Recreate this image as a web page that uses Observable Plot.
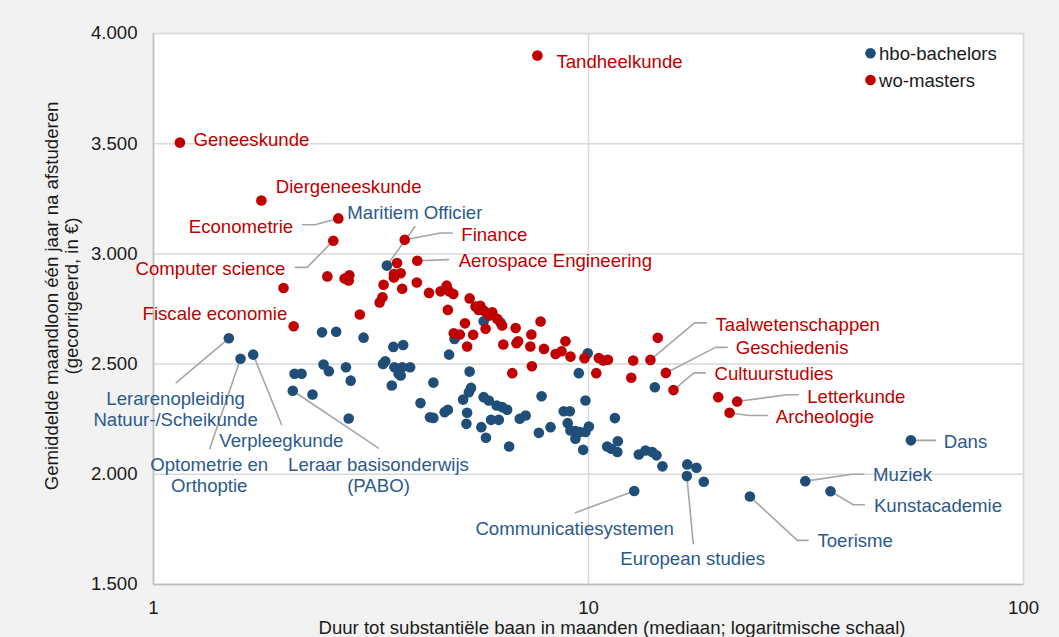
<!DOCTYPE html>
<html><head><meta charset="utf-8">
<script src="https://cdn.jsdelivr.net/npm/d3@7"></script>
<script src="https://cdn.jsdelivr.net/npm/@observablehq/plot@0.6"></script>
<style>body{margin:0;background:#F2F2F2;} #chart svg{display:block}</style>
</head><body><div id="chart"></div>
<script>
// ---- data: hbo-bachelors (months to substantial job, average monthly wage) ----
const hboNames = ["Maritiem Officier","Dans","Muziek","Kunstacademie","Toerisme","European studies","Communicatiesystemen","Lerarenopleiding\nNatuur-/Scheikunde","Optometrie en\nOrthoptie","Verpleegkunde","Leraar basisonderwijs\n(PABO)"];
const hboMonths = [3.44,55.1,31.5,36.0,23.5,16.83,12.74,1.49,1.585,1.695,2.09,
  2.44,2.63,3.04,3.56,3.75,2.46,2.53,2.77,2.84,2.11,2.19,2.32,2.81,3.37,3.41,3.58,3.66,3.73,3.89,3.70,3.53,4.40,4.11,4.32,4.40,
  5.33,9.50,4.67,4.75,5.15,5.31,5.37,5.26,5.24,5.67,5.81,5.74,5.90,6.15,6.33,6.50,5.97,6.22,6.57,6.95,7.17,7.80,7.69,8.18,
  8.77,9.06,8.96,9.09,9.33,9.55,9.84,10.02,9.33,9.72,9.84,5.74,6.28,4.92,4.78,9.96,14.21,11.50,11.04,11.28,11.68,11.65,
  13.05,13.52,14.01,14.33,14.79,16.87,17.71,18.41];
const hboWage = [2947,2154,1969,1923,1899,1992,1924,2617,2524,2543,2379,
  2644,2647,2620,2578,2587,2498,2468,2486,2425,2456,2456,2362,2253,2501,2513,2486,2456,2486,2486,2448,2403,2416,2323,2259,2256,
  2466,2459,2282,2293,2339,2372,2392,2279,2229,2214,2166,2350,2335,2312,2305,2293,2247,2247,2126,2252,2267,2354,2188,2214,
  2286,2286,2232,2199,2196,2192,2192,2217,2161,2111,2335,2694,2688,2614,2543,2549,2395,2255,2126,2116,2150,2101,
  2090,2108,2101,2086,2036,2045,2030,1966];

// ---- data: wo-masters ----
const woNames = ["Tandheelkunde","Geneeskunde","Diergeneeskunde","Econometrie","Computer science","Finance","Aerospace Engineering","Fiscale economie","Taalwetenschappen","Geschiedenis","Cultuurstudies","Letterkunde","Archeologie"];
const woMonths = [7.63,1.15,1.77,2.66,2.59,3.78,4.04,2.10,13.88,15.06,15.68,21.97,21.1,
  19.87,3.63,2.51,2.75,2.82,2.81,1.99,3.57,3.70,3.57,3.38,3.73,4.03,4.30,4.57,4.72,4.78,4.89,3.36,3.31,2.98,5.33,4.75,
  5.50,5.64,5.59,5.74,5.85,6.01,5.91,6.17,6.33,5.80,5.20,4.90,5.06,5.43,5.26,6.80,7.76,7.39,6.37,6.89,6.83,7.35,7.90,7.41,6.68,
  8.85,8.40,8.67,9.09,9.79,10.42,10.56,10.81,11.08,12.67,14.43,12.54];
const woWage = [3900,3505,3242,3161,3060,3064,2969,2672,2519,2460,2382,2330,2279,
  2350,2959,2898,2888,2903,2879,2845,2909,2912,2893,2860,2842,2870,2823,2830,2856,2830,2818,2803,2780,2725,2798,2746,
  2761,2765,2746,2743,2730,2735,2720,2705,2675,2660,2685,2640,2634,2633,2580,2664,2693,2634,2589,2604,2595,2580,2569,2490,2459,
  2604,2546,2558,2534,2527,2459,2528,2516,2520,2516,2619,2438];

// ---- axes ----
const yTicks = [1500,2000,2500,3000,3500,4000];
const xTicks = [1,10,100];
const seriesNames = ["hbo-bachelors","wo-masters"];
const xTitle = "Duur tot substantiële baan in maanden (mediaan; logaritmische schaal)";
const yTitle = ["Gemiddelde maandloon één jaar na afstuderen","(gecorrigeerd, in €)"];

// ---- annotation layout (label anchor and leader elbows, in data units) ----
const labelLayout = [
  {s:"wo",  name:"Tandheelkunde", a:"start", t:[8.44,3875], p:[]},
  {s:"wo",  name:"Geneeskunde", a:"start", t:[1.236,3519], p:[]},
  {s:"wo",  name:"Diergeneeskunde", a:"start", t:[1.91,3306], p:[]},
  {s:"wo",  name:"Econometrie", a:"end", t:[2.095,3126], p:[[2.35,3132],[2.20,3132]]},
  {s:"wo",  name:"Computer science", a:"end", t:[2.01,2934], p:[[2.256,2939],[2.12,2939]]},
  {s:"wo",  name:"Finance", a:"start", t:[5.10,3090], p:[[4.57,3095],[4.86,3095]]},
  {s:"wo",  name:"Aerospace Engineering", a:"start", t:[5.03,2969], p:[[4.77,2974]]},
  {s:"wo",  name:"Fiscale economie", a:"end", t:[2.03,2729], p:[]},
  {s:"wo",  name:"Taalwetenschappen", a:"start", t:[19.59,2682], p:[[17.53,2687],[18.65,2687]]},
  {s:"wo",  name:"Geschiedenis", a:"start", t:[21.81,2574], p:[[19.59,2576],[20.84,2576]]},
  {s:"wo",  name:"Cultuurstudies", a:"start", t:[19.49,2456], p:[[17.47,2460],[18.58,2460]]},
  {s:"wo",  name:"Letterkunde", a:"start", t:[31.83,2354], p:[[28.63,2361],[30.35,2361]]},
  {s:"wo",  name:"Archeologie", a:"start", t:[26.96,2264], p:[[23.36,2267],[25.76,2267]]},
  {s:"hbo", name:"Maritiem Officier", a:"start", t:[2.79,3188], p:[[3.99,3123]]},
  {s:"hbo", name:"Dans", a:"start", t:[65.6,2151], p:[[62.8,2154]]},
  {s:"hbo", name:"Muziek", a:"start", t:[45.1,1998], p:[[40.4,2000],[42.96,2000]]},
  {s:"hbo", name:"Kunstacademie", a:"start", t:[45.3,1858], p:[[40.6,1862],[43.1,1862]]},
  {s:"hbo", name:"Toerisme", a:"start", t:[33.6,1700], p:[[30.2,1700],[31.97,1700]]},
  {s:"hbo", name:"European studies", a:"middle", t:[17.35,1617], p:[[17.41,1685]]},
  {s:"hbo", name:"Communicatiesystemen", a:"middle", t:[9.29,1753], p:[[9.33,1826]]},
  {s:"hbo", name:"Lerarenopleiding\nNatuur-/Scheikunde", a:"middle", t:[1.124,2298], p:[[1.128,2416]]},
  {s:"hbo", name:"Optometrie en\nOrthoptie", a:"middle", t:[1.343,1996], p:[[1.347,2117]]},
  {s:"hbo", name:"Verpleegkunde", a:"middle", t:[1.967,2154], p:[[1.969,2226]]},
  {s:"hbo", name:"Leraar basisonderwijs\n(PABO)", a:"middle", t:[3.29,1998], p:[[3.29,2119]]}
];

// ---- styling ----
const BLUE = "#1F4E79", RED = "#C00000", BLUE_TXT = "#2B5A8C", LINE = "#A6A6A6";
const FONT = "'Liberation Sans', Arial, sans-serif";
const FS = 18.6;

const hbo = hboMonths.map((m,i)=>({months:m, wage:hboWage[i], name:hboNames[i]||""}));
const wo = woMonths.map((m,i)=>({months:m, wage:woWage[i], name:woNames[i]||""}));

const annotations = labelLayout.map(d=>({label:d.name, tx:d.t[0], ty:d.t[1], anchor:d.a, fill: d.s==="wo"?RED:BLUE_TXT}));
const leaders = [];
labelLayout.forEach((d,k)=>{
  if(!d.p.length) return;
  const src = (d.s==="wo"?wo:hbo).find(e=>e.name===d.name);
  leaders.push({id:k, x:src.months, y:src.wage});
  d.p.forEach(q=>leaders.push({id:k, x:q[0], y:q[1]}));
});

const fmt = d => d3.format(",")(d).replace(/,/g,".");
const textOpts = a => ({filter:d=>d.anchor===a, x:"tx", y:"ty", text:"label", fill:"fill", textAnchor:a, fontSize:FS, lineHeight:1.12, fontFamily:FONT});

const chart = Plot.plot({
  width:1059, height:637,
  marginLeft:153, marginRight:36, marginTop:33, marginBottom:53,
  style:{background:"#F2F2F2", fontFamily:FONT, fontSize:FS+"px", color:"#1a1a1a"},
  x:{type:"log", domain:[1,100], label:null},
  y:{domain:[1500,4000], label:null},
  marks:[
    Plot.frame({fill:"white", stroke:"#D9D9D9", strokeWidth:1.5}),
    Plot.gridY(yTicks, {stroke:"#D9D9D9", strokeOpacity:1, strokeWidth:1.5}),
    Plot.gridX(xTicks, {stroke:"#D9D9D9", strokeOpacity:1, strokeWidth:1.5}),
    Plot.ruleX([1], {stroke:"#BFBFBF", strokeWidth:1.5}),
    Plot.ruleY([1500], {stroke:"#BFBFBF", strokeWidth:1.5}),
    Plot.axisY(yTicks, {tickSize:0, tickPadding:16, tickFormat:fmt, fontSize:FS, label:null, fill:"#1a1a1a"}),
    Plot.axisX(xTicks, {tickSize:0, tickPadding:16, tickFormat:d=>String(d), fontSize:FS, label:null, fill:"#1a1a1a"}),
    Plot.line(leaders, {x:"x", y:"y", z:"id", stroke:LINE, strokeWidth:1.6}),
    Plot.dot(hbo, {x:"months", y:"wage", r:5.3, fill:BLUE}),
    Plot.dot(wo, {x:"months", y:"wage", r:5.3, fill:RED}),
    Plot.text(annotations, textOpts("start")),
    Plot.text(annotations, textOpts("end")),
    Plot.text(annotations, textOpts("middle"))
  ]
});
document.getElementById("chart").appendChild(chart);

// titles and legend
const svg = d3.select(chart);
const yt = svg.append("text").attr("transform","translate(57.5,296) rotate(-90)")
  .attr("text-anchor","middle").attr("font-size",FS).attr("fill","#1a1a1a").attr("font-family",FONT);
yt.append("tspan").attr("x",0).attr("y",0).text(yTitle[0]);
yt.append("tspan").attr("x",0).attr("y",20.7).text(yTitle[1]);
svg.append("text").attr("x",612).attr("y",634).attr("text-anchor","middle")
  .attr("font-size",FS).attr("fill","#1a1a1a").attr("font-family",FONT).text(xTitle);
const lg = svg.append("g");
[[BLUE,53.3,60],[RED,80,86.5]].forEach(([c,cy,by],i)=>{
  lg.append("circle").attr("cx",870.5).attr("cy",cy).attr("r",5.3).attr("fill",c);
  lg.append("text").attr("x",879).attr("y",by).attr("text-anchor","start").attr("font-size",FS)
    .attr("fill","#1a1a1a").attr("font-family",FONT).text(seriesNames[i]);
});
</script>
</body></html>
